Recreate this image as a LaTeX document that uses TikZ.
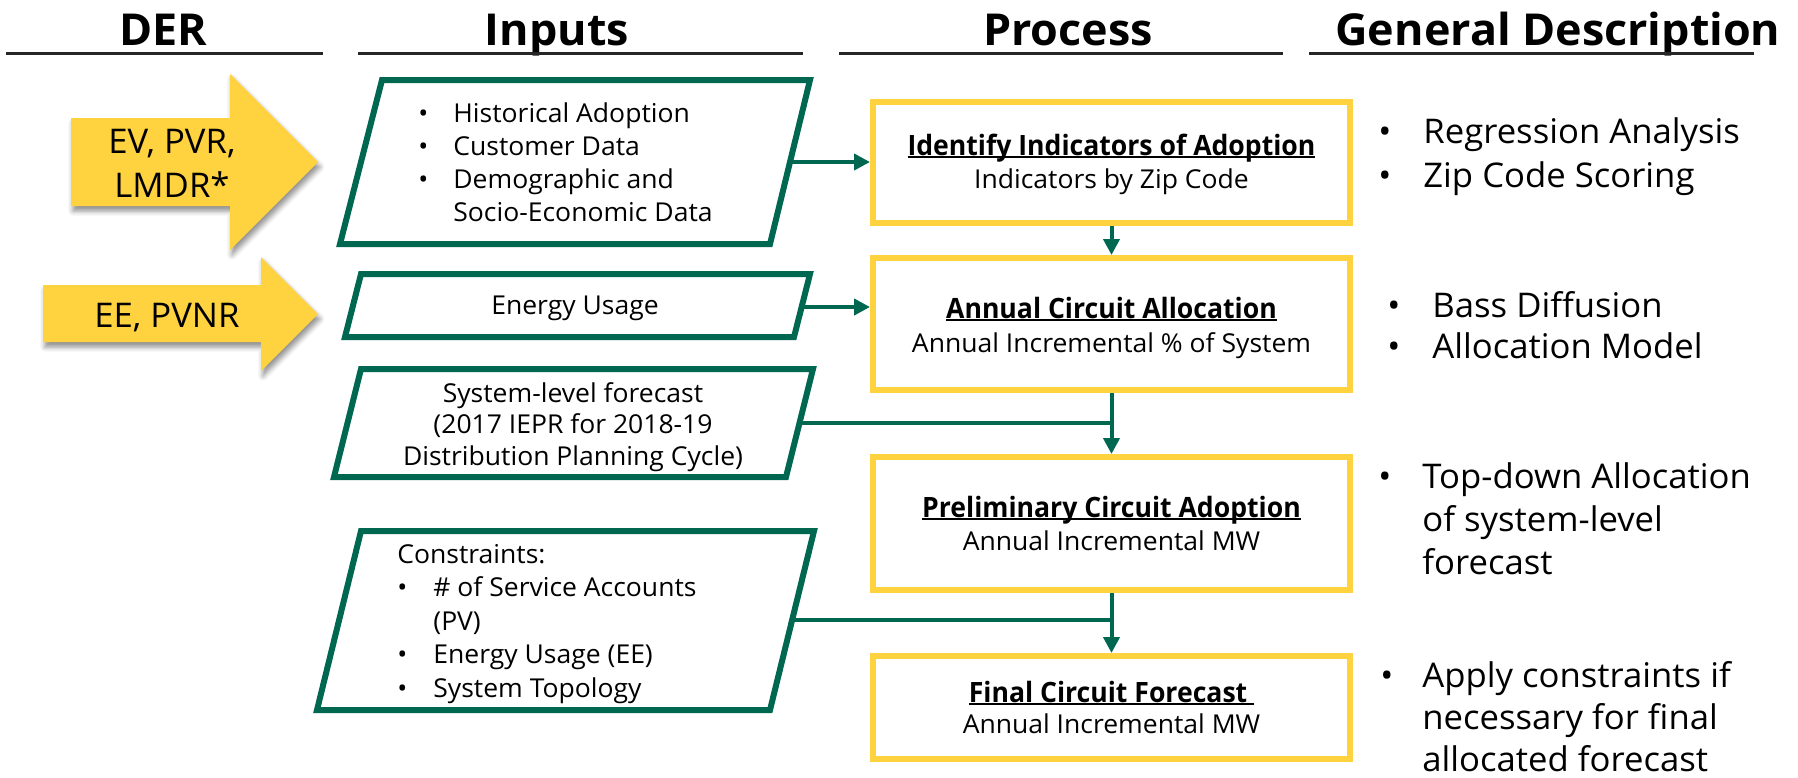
\documentclass[tikz,border=0pt]{standalone}
\usepackage{fontspec}
\setmainfont{Open Sans}[FakeStretch=1.02]
\newfontfamily\titlefont{Open Sans}[FakeStretch=0.95]
\usetikzlibrary{arrows.meta,fit,shadows.blur}
\definecolor{dgreen}{RGB}{0,104,80}
\definecolor{sun}{RGB}{255,210,63}
% bold text with a close underline
\newcommand\ulbf[1]{\setbox0\hbox{\bfseries #1}\rlap{\rule[-1.6pt]{\wd0}{0.9pt}}\box0}
% bullet followed by a fixed gap
\newcommand\bulitem[1]{\makebox[#1][l]{•}}

\begin{document}
\begin{tikzpicture}[x=0.5pt,y=-0.5pt,
  hdr/.style={font=\fontsize{22}{26}\selectfont\bfseries, anchor=base, inner sep=0},
  hline/.style={line width=1.5pt, draw=black!85},
  derarrow/.style={fill=sun, blur shadow={shadow xshift=1pt, shadow yshift=-2.5pt, shadow blur radius=2.5pt, shadow opacity=45}},
  inbox/.style={draw=dgreen, line width=3pt, fill=white, line join=miter},
  ybox/.style={draw=sun, line width=3pt, fill=white, inner sep=0},
  conn/.style={draw=dgreen, line width=2pt, -{Triangle[length=8pt,width=8pt]}},
  link/.style={draw=dgreen, line width=2pt},
  txt/.style={inner sep=0, anchor=base, font=\fontsize{13}{16.5}\selectfont},
  atxt/.style={inner sep=0, anchor=base, font=\fontsize{17}{22}\selectfont},
  ttl/.style={inner sep=0, anchor=base, font=\titlefont\fontsize{14}{17}\selectfont},
  sub/.style={inner sep=0, anchor=base, font=\fontsize{13}{16}\selectfont},
  desc/.style={inner sep=0, anchor=base west, font=\fontsize{17}{22}\selectfont},
]
\useasboundingbox (0,0) rectangle (1798,777);

% column headings
\node[hdr] (hder) at (163,45) {DER};
\node[hdr] (hin) at (557,45) {Inputs};
\node[hdr] (hpro) at (1068,45) {Process};
\node[hdr] (hgd) at (1558,45) {General Description};
\draw[hline] (6,53) -- (323,53);
\draw[hline] (358,53) -- (803,53);
\draw[hline] (839,53) -- (1283,53);
\draw[hline] (1309,53) -- (1754,53);

% DER block arrows
\path[derarrow] (71,118) -- (230,118) -- (230,74) -- (318,162) -- (230,250) -- (230,206) -- (71,206) -- cycle;
\path[derarrow] (43,285) -- (261,285) -- (261,257) -- (318,314) -- (261,371) -- (261,342) -- (43,342) -- cycle;
\node[atxt] (a1t) at (172,153) {\begin{tabular}[t]{@{}c@{}}EV, PVR,\\LMDR*\end{tabular}};
\node[atxt] (a2t) at (167,327) {EE, PVNR};

% process boxes
\node[ybox, fit={(873,102) (1350,223)}] (y1) {};
\node[ybox, fit={(873,258) (1350,390)}] (y2) {};
\node[ybox, fit={(873,457) (1350,590)}] (y3) {};
\node[ybox, fit={(873,656) (1350,759)}] (y4) {};

% connectors
\coordinate (p1o) at (790,162);
\coordinate (p2o) at (802,307);
\coordinate (p3o) at (800,423);
\coordinate (p4o) at (792,620);
\draw[conn] (p1o) -- (p1o -| y1.west);
\draw[conn] (p2o) -- (p2o -| y2.west);
\draw[conn] (y1.south) -- (y2.north);
\draw[conn] (y2.south) -- (y3.north);
\draw[link] (p3o) -- (p3o -| y2.south);
\draw[conn] (y3.south) -- (y4.north);
\draw[link] (p4o) -- (p4o -| y3.south);

% input parallelograms
\draw[inbox] (382,80) -- (810,80) -- (770,244) -- (340,244) -- cycle;
\draw[inbox] (361,274) -- (810,274) -- (794,337) -- (345,337) -- cycle;
\draw[inbox] (361,369) -- (813,369) -- (786,477) -- (334,477) -- cycle;
\draw[inbox] (361,531) -- (814,531) -- (770,710) -- (317,710) -- cycle;

\node[txt, anchor=base west] (p1t) at (418,122) {\begin{tabular}[t]{@{}l@{}}\bulitem{17.5pt}Historical Adoption\\ \bulitem{17.5pt}Customer Data\\ \bulitem{17.5pt}Demographic and\\ \hspace*{17.5pt}Socio-Economic Data\end{tabular}};
\node[txt] (p2t) at (575,314) {Energy Usage};
\node[txt, font=\fontsize{13}{15.75}\selectfont] (p3t) at (573,402) {\begin{tabular}[t]{@{}c@{}}System-level forecast\\(2017 IEPR for 2018-19\\Distribution Planning Cycle)\end{tabular}};
\node[txt, anchor=base west, font=\fontsize{13}{16.75}\selectfont] (p4t) at (397,563) {\begin{tabular}[t]{@{}l@{}}Constraints:\\ \bulitem{18pt}\# of Service Accounts\\ \hspace*{18pt}(PV)\\ \bulitem{18pt}Energy Usage (EE)\\ \bulitem{18pt}System Topology\end{tabular}};

% process box texts
\node[ttl] (y1a) at (1111.5,155) {\ulbf{Identify Indicators of Adoption}};
\node[sub] (y1b) at (1111.5,188) {Indicators by Zip Code};
\node[ttl] (y2a) at (1111.5,318) {\ulbf{Annual Circuit Allocation}};
\node[sub] (y2b) at (1111.5,352) {Annual Incremental \% of System};
\node[ttl] (y3a) at (1111.5,517) {\ulbf{Preliminary Circuit Adoption}};
\node[sub] (y3b) at (1111.5,550) {Annual Incremental MW};
\node[ttl] (y4a) at (1111.5,702) {\ulbf{Final Circuit Forecast\ }};
\node[sub] (y4b) at (1111.5,733) {Annual Incremental MW};

% general descriptions
\node[desc] (d1) at (1378,143) {\begin{tabular}[t]{@{}l@{}}\bulitem{22.5pt}Regression Analysis\\ \bulitem{22.5pt}Zip Code Scoring\end{tabular}};
\node[desc, font=\fontsize{17}{20.5}\selectfont] (d2) at (1387,317) {\begin{tabular}[t]{@{}l@{}}\bulitem{22.5pt}Bass Diffusion\\ \bulitem{22.5pt}Allocation Model\end{tabular}};
\node[desc, font=\fontsize{17}{21.5}\selectfont] (d3) at (1378,488) {\begin{tabular}[t]{@{}l@{}}\bulitem{22pt}Top-down Allocation\\ \hspace*{22pt}of system-level\\ \hspace*{22pt}forecast\end{tabular}};
\node[desc, font=\fontsize{17}{21}\selectfont] (d4) at (1380,687) {\begin{tabular}[t]{@{}l@{}}\bulitem{21pt}Apply constraints if\\ \hspace*{21pt}necessary for final\\ \hspace*{21pt}allocated forecast\end{tabular}};
\end{tikzpicture}
\end{document}
